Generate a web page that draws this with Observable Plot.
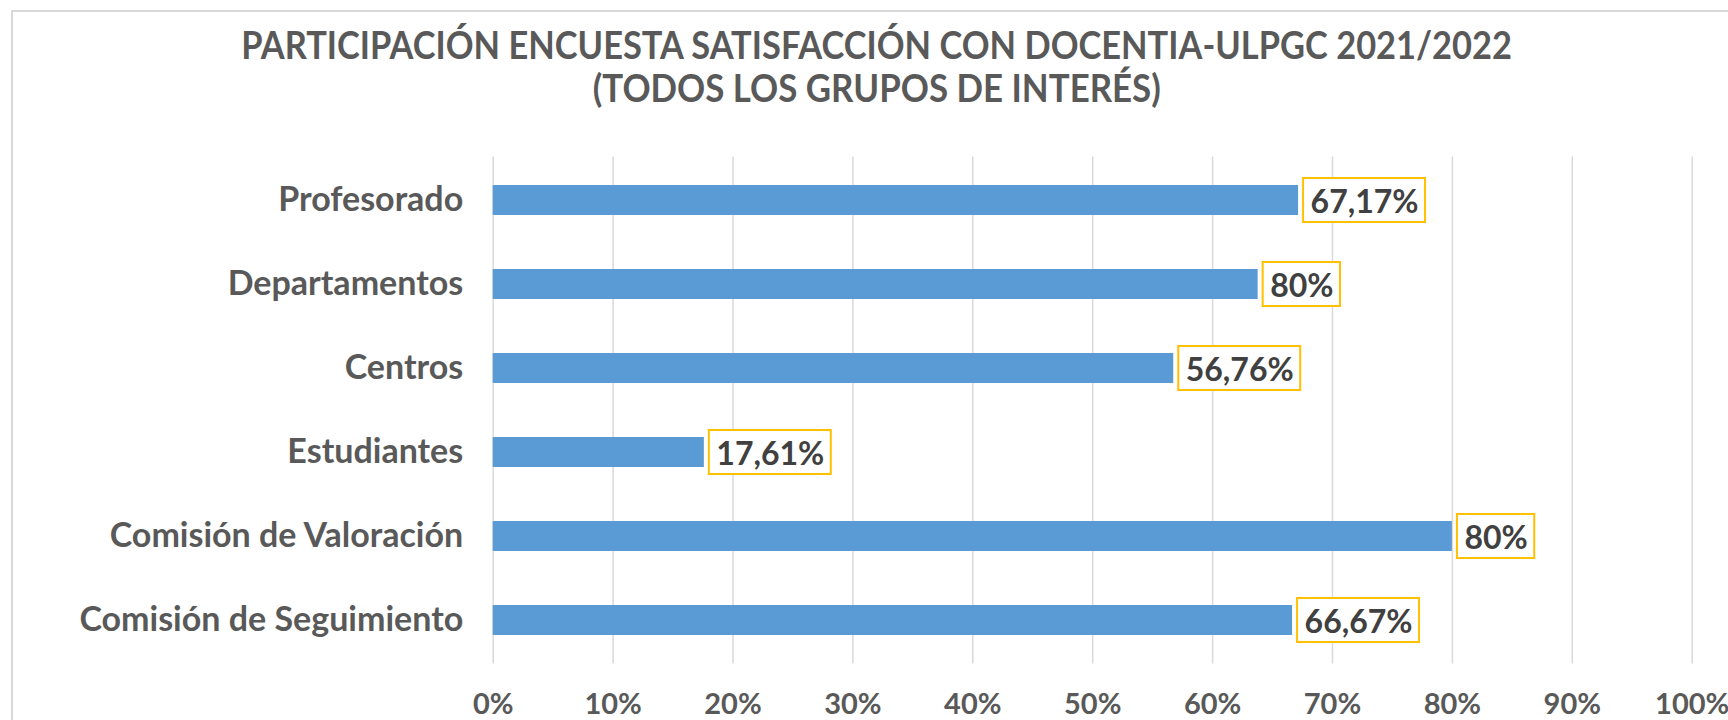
<!DOCTYPE html>
<html>
<head>
<meta charset="utf-8">
<script src="https://cdn.jsdelivr.net/npm/d3@7"></script>
<script src="https://cdn.jsdelivr.net/npm/@observablehq/plot@0.6"></script>
<style>
  html, body { margin: 0; padding: 0; background: #fff; }
  #wrap { position: relative; width: 1728px; height: 720px; overflow: hidden; background: #fff; }
  #frame { position: absolute; left: 10.5px; top: 10px; width: 1760px; height: 800px; border: 2px solid #d9d9d9; box-sizing: border-box; }
  #title { position: absolute; left: 0; top: 23px; width: 1754px; text-align: center; font-family: Lato, sans-serif; font-weight: bold; font-size: 39px; line-height: 42.5px; color: #595959; white-space: nowrap; }
  #title span { display: inline-block; transform-origin: center; }
  #chart { position: absolute; left: 0; top: 0; }
</style>
</head>
<body>
<div id="wrap">
  <div id="frame"></div>
  <div id="chart"></div>
  <div id="title"><span id="t1"></span><br><span id="t2"></span></div>
</div>
<script>
const titleLines = ["PARTICIPACIÓN ENCUESTA SATISFACCIÓN CON DOCENTIA-ULPGC 2021/2022", "(TODOS LOS GRUPOS DE INTERÉS)"];
const categories = ["Profesorado", "Departamentos", "Centros", "Estudiantes", "Comisión de Valoración", "Comisión de Seguimiento"];
const values = [67.17, 63.8, 56.76, 17.61, 80, 66.67];
const valueLabels = ["67,17%", "80%", "56,76%", "17,61%", "80%", "66,67%"];
const xTicks = [0, 10, 20, 30, 40, 50, 60, 70, 80, 90, 100];
const xTickLabels = ["0%", "10%", "20%", "30%", "40%", "50%", "60%", "70%", "80%", "90%", "100%"];

document.getElementById("t1").textContent = titleLines[0];
document.getElementById("t2").textContent = titleLines[1];

const W = 1728, H = 720;
const mL = 492.7, mR = 36.3, mT = 156.5, mB = 56.5;
const k = (W - mL - mR) / 100; // px per percent

const labelFont = "bold 32px Lato";
const ctx = document.createElement("canvas").getContext("2d");
ctx.font = labelFont;

const gap = 5, pad = 7;
const data = categories.map((c, i) => {
  const w = ctx.measureText(valueLabels[i]).width;
  return { cat: c, value: values[i], label: valueLabels[i], w };
});

const chart = Plot.plot({
  width: W,
  height: H,
  marginLeft: mL,
  marginRight: mR,
  marginTop: mT,
  marginBottom: mB,
  style: { fontFamily: "Lato, sans-serif", fontWeight: "bold", background: "transparent", overflow: "visible" },
  x: { domain: [0, 100] },
  y: { domain: categories, paddingInner: 0.645, paddingOuter: 0.3225 },
  marks: [
    Plot.ruleX(xTicks, { stroke: "#d9d9d9", strokeWidth: 1.5 }),
    Plot.barX(data, { x: "value", y: "cat", fill: "#5B9BD5" }),
    Plot.barX(data, {
      x1: d => d.value + gap / k,
      x2: d => d.value + (gap + d.w + 2 * pad) / k,
      y: "cat", fill: "white", stroke: "#FFC000", strokeWidth: 2,
      insetTop: -7, insetBottom: -7
    }),
    Plot.text(data, {
      x: "value", y: "cat", text: "label", textAnchor: "start",
      dx: gap + pad, dy: 2, fontSize: 32, fontWeight: "bold", fill: "#404040"
    }),
    Plot.axisY({ tickSize: 0, tickPadding: 30, fontSize: 34, fill: "#595959", label: null }),
    Plot.axisX({ ticks: xTicks, tickFormat: d => xTickLabels[xTicks.indexOf(d)], tickSize: 0, tickPadding: 29, fontSize: 29, fill: "#595959", label: null })
  ]
});
document.getElementById("chart").appendChild(chart);

// fit title widths to the reference line widths
const tctx = document.createElement("canvas").getContext("2d");
tctx.font = "bold 39px Lato";
const targets = [1272, 568];
["t1", "t2"].forEach((id, i) => {
  const w = tctx.measureText(titleLines[i]).width;
  document.getElementById(id).style.transform = `scaleX(${targets[i] / w})`;
});
</script>
</body>
</html>
